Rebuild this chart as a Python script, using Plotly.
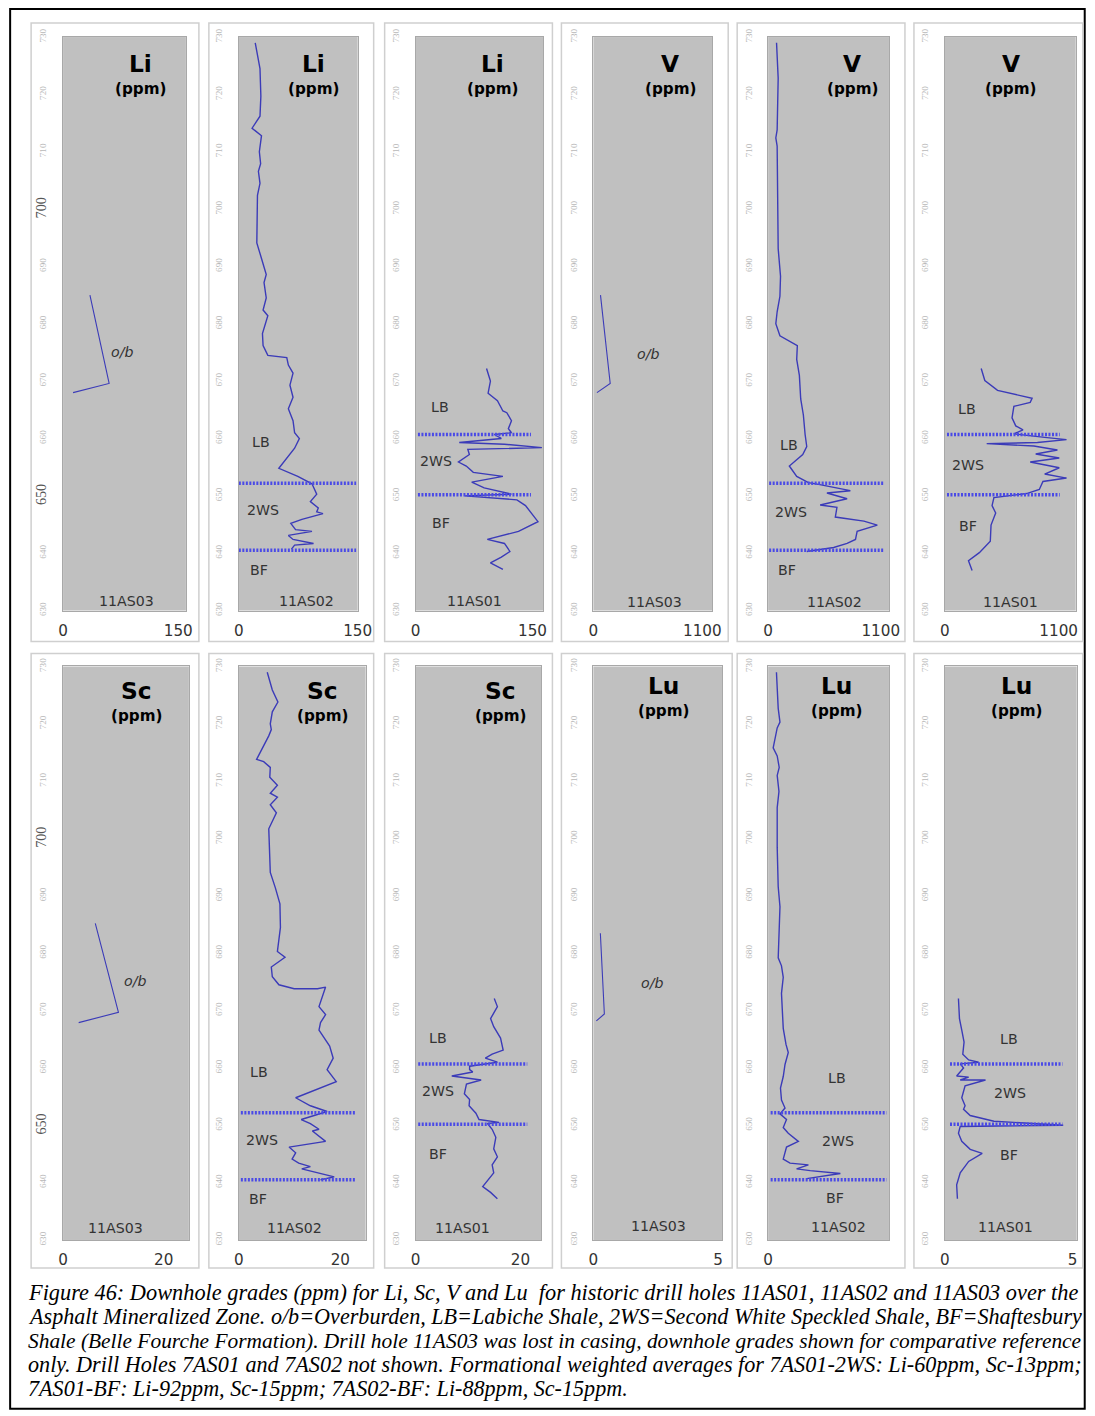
import plotly.graph_objects as go

# measured: the photographed page shows page pixel p at about 4 + 0.983*p (x) and 8 + 0.991*p (y);
# target positions below are taken from the reference picture and mapped back to page pixels.
OFF = 8                      # html body margin
W, H = 1093, 1416            # figure size
SX, OX, SY, OY = 0.983, 4.0, 0.991, 8.0
FS = 1.013                   # font compensation

# ------------------------------------------------------------------ data
depth_ticks = list(range(630, 731, 10))
elements = ["Li", "Li", "Li", "V", "V", "V", "Sc", "Sc", "Sc", "Lu", "Lu", "Lu"]
holes = ["11AS03", "11AS02", "11AS01"] * 4
x_end_tick = [150, 150, 150, 1100, 1100, 1100, 20, 20, 20, 5, 5, 5]
x_max = [160, 150, 164, 1200, 1180, 1265, 25, 25, 24, 5.16, 4.8, 5.16]

# formation boundaries (depth) per drill hole
form_11as02 = [652.2, 640.5]
form_11as01 = [660.7, 650.2]

# ---- Li
li_03_d = [685.0, 669.6, 668.0]
li_03 = [35, 60, 13]

li_02_d = [729, 724.5, 719.7, 716.2, 714.1, 712.8, 710, 707.9, 706.6, 704.5, 702.4, 698.3, 694.1,
           691.4, 688.6, 687.2, 684.5, 682.4, 681.4, 678.3, 676.2, 674.5, 674.1, 672.8, 671.4,
           669.3, 667.2, 665.2, 663.1, 661.0, 660.0, 658.3, 654.8, 653.4, 652.1, 650.3, 649.0,
           647.9, 647.2, 646.9, 645.9, 645.2, 644.1, 643.8, 643.1, 642.4, 641.7, 641.4, 640.7]
li_02 = [20.7, 26.7, 27.8, 26.7, 16.7, 28.6, 25.9, 27.5, 24.7, 26.7, 23.5, 22.7, 22.7,
         28.6, 34.6, 31.8, 34.6, 30.6, 36.6, 29.8, 30.6, 36.6, 60.5, 62.5, 68.4,
         64.5, 68.4, 62.5, 68.4, 70.4, 76.4, 70.4, 50.5, 74.4, 92.3, 98.3, 90.3,
         100.3, 98.3, 106.2, 79.6, 65.6, 71.6, 92.3, 62.5, 68.4, 94.3, 70.4, 66.4]

li_01_d = [672.2, 670.0, 667.9, 666.6, 664.8, 664.5, 663.1, 661.7, 661.0, 660.7, 660.0, 659.3,
           659.0, 658.4, 658.1, 657.2, 655.9, 655.2, 654.1, 653.4, 652.4, 651.4, 650.3, 650.0,
           649.3, 648.3, 645.5, 643.8, 642.4, 641.7, 640.3, 639.3, 638.3, 637.2]
li_01 = [91, 96, 93, 105, 112, 117, 123, 119, 123, 101, 110, 56,
         114, 162, 67, 69, 55, 65, 74, 112, 72, 88, 123, 63,
         130, 141, 157, 132, 92, 114, 121, 110, 96, 112]

# ---- V
v_03_d = [685.0, 669.6, 668.0]
v_03 = [72, 170, 36]

v_02_d = [729, 722.8, 713.8, 712.4, 711, 702.1, 693.1, 688.3, 684.8, 682.1, 680, 677.9, 676.6,
          676.2, 673.8, 671, 666.9, 664.1, 660.7, 658.6, 657.2, 655.2, 653.4, 652.3, 652.0,
          651.6, 650.9, 650.5, 649.5, 648.4, 648.0, 646.3, 645.6, 644.9, 643.8, 642.4, 641.7,
          641.0, 640.3]
v_02 = [82, 98, 88, 75, 88, 92, 98, 121, 115, 88, 75, 115, 246,
        285, 279, 305, 318, 344, 361, 377, 338, 207, 279, 393, 492,
        607, 803, 574, 771, 508, 672, 656, 935, 1066, 869, 853, 771,
        640, 377]

v_01_d = [672.2, 670.1, 668.4, 667.7, 667.0, 666.3, 665.6, 663.6, 662.2, 661.5, 660.8, 660.2,
          659.8, 659.3, 659.1, 658.7, 658.0, 657.3, 656.6, 655.9, 654.9, 653.8, 653.1, 652.5,
          651.1, 650.4, 649.7, 648.3, 647.0, 644.9, 642.1, 640.1, 638.7, 637.0]
v_01 = [351, 386, 509, 685, 843, 825, 667, 649, 685, 755, 667, 965,
        1176, 895, 404, 860, 1088, 878, 1106, 825, 1106, 965, 1176, 948,
        913, 790, 474, 456, 491, 446, 439, 333, 228, 263]

# ---- Sc
sc_03_d = [685.2, 669.7, 667.9]
sc_03 = [6.4, 11.0, 3.1]

sc_02_d = [729, 725.9, 723.8, 722.1, 720, 719, 717.9, 713.8, 713.4, 712.4, 710.7, 709.3, 707.9,
           707.2, 705.9, 704.5, 701.7, 694.1, 691.4, 688.6, 684.5, 680.3, 679.3, 677.6, 675.9,
           674.5, 673.8, 673.8, 674.1, 670.7, 669.3, 667.9, 666.6, 663.8, 661.7, 659.7, 657.6,
           654.8, 653.4, 652.4, 651.0, 650.3, 649.3, 649.0, 647.2, 646.2, 645.2, 644.1, 643.4,
           642.8, 642.4, 641.7, 641.0, 640.5]
sc_02 = [5.6, 6.6, 7.7, 6.6, 6.2, 6.4, 5.9, 3.5, 4.9, 6.2, 6.1, 7.6, 6.2,
         7.6, 6.2, 7.4, 5.9, 6.2, 7.2, 8.1, 8.2, 7.6, 9.1, 6.4, 6.6,
         7.9, 10.9, 15.5, 17.1, 15.8, 17.1, 16.1, 15.8, 17.9, 18.6, 17.4, 19.2,
         11.2, 14.1, 17.4, 12.3, 14.1, 15.8, 14.5, 17.1, 9.9, 11.2, 10.5, 11.8,
         14.1, 12.4, 15.8, 18.8, 16.1]

sc_01_d = [672.1, 670.7, 668.6, 667.2, 665.2, 663.1, 662.4, 661.7, 661.0, 660.3, 659.7, 659.3,
           658.6, 658.3, 657.9, 657.2, 655.5, 654.5, 653.4, 652.1, 651.0, 650.5, 650.3, 649.3,
           647.9, 645.9, 644.5, 643.1, 641.7, 639.3, 638.3, 637.2]
sc_01 = [15.0, 15.6, 14.3, 14.9, 16.2, 16.7, 14.6, 13.3, 15.6, 10.3, 10.3, 10.9,
         6.9, 9.0, 12.5, 9.7, 9.3, 10.3, 10.2, 11.5, 12.1, 15.9, 13.7, 14.6,
         15.3, 14.9, 15.6, 14.6, 14.9, 12.8, 14.3, 15.6]

# ---- Lu
lu_03_d = [683.5, 669.4, 668.2]
lu_03 = [0.28, 0.44, 0.12]

lu_02_d = [729, 722.7, 720.3, 719.3, 715.8, 714.4, 712.4, 711.0, 708.2, 705.4, 698.5, 691.6,
           688.1, 683.3, 679.2, 677.8, 675.8, 673.0, 669.6, 666.9, 664.1, 662.7, 660.6, 658.5,
           656.5, 654.4, 653.0, 652.0, 651.0, 649.6, 648.6, 647.2, 646.2, 644.1, 643.4, 643.1,
           642.4, 642.1, 641.6, 641.1, 640.7]
lu_02 = [0.33, 0.40, 0.47, 0.36, 0.20, 0.36, 0.44, 0.36, 0.43, 0.36, 0.36, 0.40,
         0.47, 0.44, 0.40, 0.53, 0.60, 0.53, 0.57, 0.60, 0.71, 0.80, 0.67, 0.60,
         0.49, 0.53, 0.67, 0.47, 0.73, 0.60, 0.80, 1.20, 0.73, 0.60, 0.87, 1.60,
         1.13, 1.67, 2.87, 2.07, 1.53]

lu_01_d = [672.1, 668.6, 666.6, 664.5, 662.4, 661.4, 661.0, 660.7, 660.0, 658.6, 658.4, 657.9,
           657.9, 656.9, 654.8, 653.4, 652.8, 651.7, 650.7, 650.0, 649.8, 648.6, 647.2, 645.8,
           645.1, 643.7, 641.7, 639.6, 637.2]
lu_01 = [0.53, 0.57, 0.66, 0.75, 0.70, 0.93, 1.32, 0.60, 0.73, 0.46, 0.93, 0.60,
         1.59, 0.79, 0.66, 0.79, 0.73, 0.99, 1.92, 4.63, 0.60, 0.53, 0.66, 0.99,
         1.46, 0.93, 0.60, 0.46, 0.49]

curves = [(li_03, li_03_d), (li_02, li_02_d), (li_01, li_01_d),
          (v_03, v_03_d), (v_02, v_02_d), (v_01, v_01_d),
          (sc_03, sc_03_d), (sc_02, sc_02_d), (sc_01, sc_01_d),
          (lu_03, lu_03_d), (lu_02, lu_02_d), (lu_01, lu_01_d)]

form_tops = {"11AS02": form_11as02, "11AS01": form_11as01}
form_names = ["LB", "2WS", "BF"]
# formation label positions (value, depth) per panel
form_label_pos = {
    1: [(28, 659.4), (31, 647.6), (26, 637.1)],
    2: [(31, 665.5), (26, 656.0), (32, 645.2)],
    4: [(205, 658.9), (224, 647.2), (185, 637.0)],
    5: [(212, 665.2), (222, 655.4), (222, 644.8)],
    7: [(3.9, 659.3), (4.5, 647.4), (3.7, 637.1)],
    8: [(4.2, 665.2), (4.2, 656.0), (4.2, 645.0)],
    10: [(2.74, 658.2), (2.78, 647.2), (2.66, 637.3)],
    11: [(2.5, 665.0), (2.54, 655.6), (2.5, 644.8)],
}
ob_label_pos = {0: (77, 675.1), 3: (555, 674.8), 6: (14.2, 675.1), 9: (2.36, 674.8)}
# dotted boundary-line extents (value from, value to)
bound_ext = {1: (0, 148), 2: (3, 148), 4: (10, 1125), 5: (20, 1110),
             7: (0.4, 23), 8: (0.5, 21.3), 10: (0.1, 4.7), 11: (0.2, 4.6)}

caption_lines = [
    "Figure 46: Downhole grades (ppm) for Li, Sc, V and Lu  for historic drill holes 11AS01, 11AS02 and 11AS03 over the",
    "Asphalt Mineralized Zone. o/b=Overburden, LB=Labiche Shale, 2WS=Second White Speckled Shale, BF=Shaftesbury",
    "Shale (Belle Fourche Formation). Drill hole 11AS03 was lost in casing, downhole grades shown for comparative reference",
    "only. Drill Holes 7AS01 and 7AS02 not shown. Formational weighted averages for 7AS01-2WS: Li-60ppm, Sc-13ppm;",
    "7AS01-BF: Li-92ppm, Sc-15ppm; 7AS02-BF: Li-88ppm, Sc-15ppm.",
]
caption_sizes = [22.05, 21.85, 21.15, 21.9, 21.85]

# ------------------------------------------------------------------ layout geometry (reference pixels)
plot_boxes = [
    (62, 185, 36, 610), (238, 357, 36, 610), (415, 543, 36, 610),
    (593, 712, 36, 610), (768, 889, 36, 610), (945, 1076, 36, 610),
    (62, 188, 666, 1240), (238, 365, 666, 1240), (415, 541, 666, 1240),
    (593, 722, 666, 1240), (768, 889, 666, 1240), (945, 1077, 666, 1240),
]
panel_frames = [
    (30, 198, 22, 641), (208, 373, 22, 641), (384, 552, 22, 641),
    (561, 728, 22, 641), (737, 905, 22, 641), (914, 1083, 22, 641),
    (30, 198, 653, 1268), (208, 373, 653, 1268), (384, 552, 653, 1268),
    (561, 732, 653, 1268), (737, 905, 653, 1268), (914, 1083, 653, 1268),
]
title_pos = [(140, 62), (313, 62), (492, 62), (670, 62), (852, 62), (1011, 62),
             (136, 690), (322, 690), (500, 690), (663, 685), (836, 685), (1017, 685)]
hole_pos = [(126, 600), (306, 600), (474, 600), (654, 601), (834, 601), (1011, 601),
            (114, 1228), (294, 1228), (462, 1228), (658, 1226), (838, 1227), (1006, 1227)]
outer_frame = (9, 1085, 8, 1409)

CURVE = "#3b3bb8"
DOTS = "#4a4ae6"
TXT = "#333333"
SANS = "DejaVu Sans, Verdana, sans-serif"


def px(x):
    return ((x - OX) / SX - OFF) / W


def py(y):
    return 1 - ((y - OY) / SY - OFF) / H


def fs(s):
    return round(s * FS, 2)


fig = go.Figure()
shapes = []
annotations = []

# outer frame
ox0, ox1, oy0, oy1 = outer_frame
shapes.append(dict(type="rect", xref="paper", yref="paper", x0=px(ox0), x1=px(ox1),
                   y0=py(oy1), y1=py(oy0), line=dict(color="black", width=2), layer="below"))

for i in range(12):
    k = i + 1
    xa = "x" if k == 1 else f"x{k}"
    ya = "y" if k == 1 else f"y{k}"
    x0, x1, y0, y1 = plot_boxes[i]
    fx0, fx1, fy0, fy1 = panel_frames[i]
    shapes.append(dict(type="rect", xref="paper", yref="paper", x0=px(fx0), x1=px(fx1),
                       y0=py(fy1), y1=py(fy0), line=dict(color="#cfcfcf", width=1.5),
                       layer="below"))

    big = i in (0, 6)
    ticktext = []
    for d in depth_ticks:
        if big and d in (700, 650):
            ticktext.append(f'<span style="font-size:{fs(14)}px;color:#555555">{d}</span>')
        else:
            ticktext.append(str(d))

    fig.update_layout(**{
        ("xaxis" if k == 1 else f"xaxis{k}"): dict(
            domain=[px(x0), px(x1)], anchor=ya, range=[0, x_max[i]],
            tickvals=[0, x_end_tick[i]], ticktext=["0", str(x_end_tick[i])],
            showgrid=False, zeroline=False, showline=True, linecolor="#a8a8a8",
            linewidth=1, mirror=True, ticks="", ticklabelstandoff=6,
            tickfont=dict(family=SANS, size=fs(15), color=TXT), fixedrange=True),
        ("yaxis" if k == 1 else f"yaxis{k}"): dict(
            domain=[py(y1), py(y0)], anchor=xa, range=[630, 730],
            tickvals=depth_ticks, ticktext=ticktext, tickangle=-90,
            showgrid=False, zeroline=False, showline=True, linecolor="#a8a8a8",
            linewidth=1, mirror=True, ticks="", ticklabelstandoff=12,
            tickfont=dict(family="Liberation Serif, serif", size=fs(9), color="#b8b8b8"),
            fixedrange=True),
    })

    vals, deps = curves[i]
    fig.add_trace(go.Scatter(x=vals, y=deps, mode="lines", xaxis=xa, yaxis=ya,
                             line=dict(color=CURVE, width=1.4 if holes[i] != "11AS03" else 1.1),
                             showlegend=False, hoverinfo="skip"))

    hole = holes[i]
    if hole in form_tops:
        e0, e1 = bound_ext[i]
        for d in form_tops[hole]:
            fig.add_trace(go.Scatter(x=[e0, e1], y=[d, d], mode="lines", xaxis=xa, yaxis=ya,
                                     line=dict(color=DOTS, width=3.5, dash="2px,1.5px"),
                                     showlegend=False, hoverinfo="skip"))
        for name, (fxv, fdv) in zip(form_names, form_label_pos[i]):
            annotations.append(dict(x=fxv, y=fdv, xref=xa, yref=ya, text=name, showarrow=False,
                                    xanchor="center", yanchor="middle",
                                    font=dict(family=SANS, size=fs(14), color=TXT)))
    if i in ob_label_pos:
        ox, od = ob_label_pos[i]
        annotations.append(dict(x=ox, y=od, xref=xa, yref=ya, text="<i>o/b</i>", showarrow=False,
                                xanchor="center", yanchor="middle",
                                font=dict(family=SANS, size=fs(14), color=TXT)))

    tx, ty = title_pos[i]
    annotations.append(dict(x=px(tx), y=py(ty), xref="paper", yref="paper",
                            text=f"<b>{elements[i]}</b>", showarrow=False,
                            xanchor="center", yanchor="middle",
                            font=dict(family=SANS, size=fs(23), color="black")))
    annotations.append(dict(x=px(tx), y=py(ty + 26), xref="paper", yref="paper",
                            text="<b>(ppm)</b>", showarrow=False,
                            xanchor="center", yanchor="middle",
                            font=dict(family=SANS, size=fs(15), color="black")))
    hx, hy = hole_pos[i]
    annotations.append(dict(x=px(hx), y=py(hy), xref="paper", yref="paper", text=hole,
                            showarrow=False, xanchor="center", yanchor="middle",
                            font=dict(family=SANS, size=fs(14), color=TXT)))

for j, line in enumerate(caption_lines):
    annotations.append(dict(x=px(25), y=py(1293 + 24 * j), xref="paper", yref="paper",
                            xanchor="left", yanchor="middle", text=f"<i>{line}</i>",
                            showarrow=False,
                            font=dict(family="Liberation Serif, Times New Roman, serif",
                                      size=fs(caption_sizes[j]), color="black")))

fig.update_layout(width=W, height=H, margin=dict(l=0, r=0, t=0, b=0),
                  paper_bgcolor="white", plot_bgcolor="#c0c0c0",
                  shapes=shapes, annotations=annotations, showlegend=False)

fig.write_html("out.html")
